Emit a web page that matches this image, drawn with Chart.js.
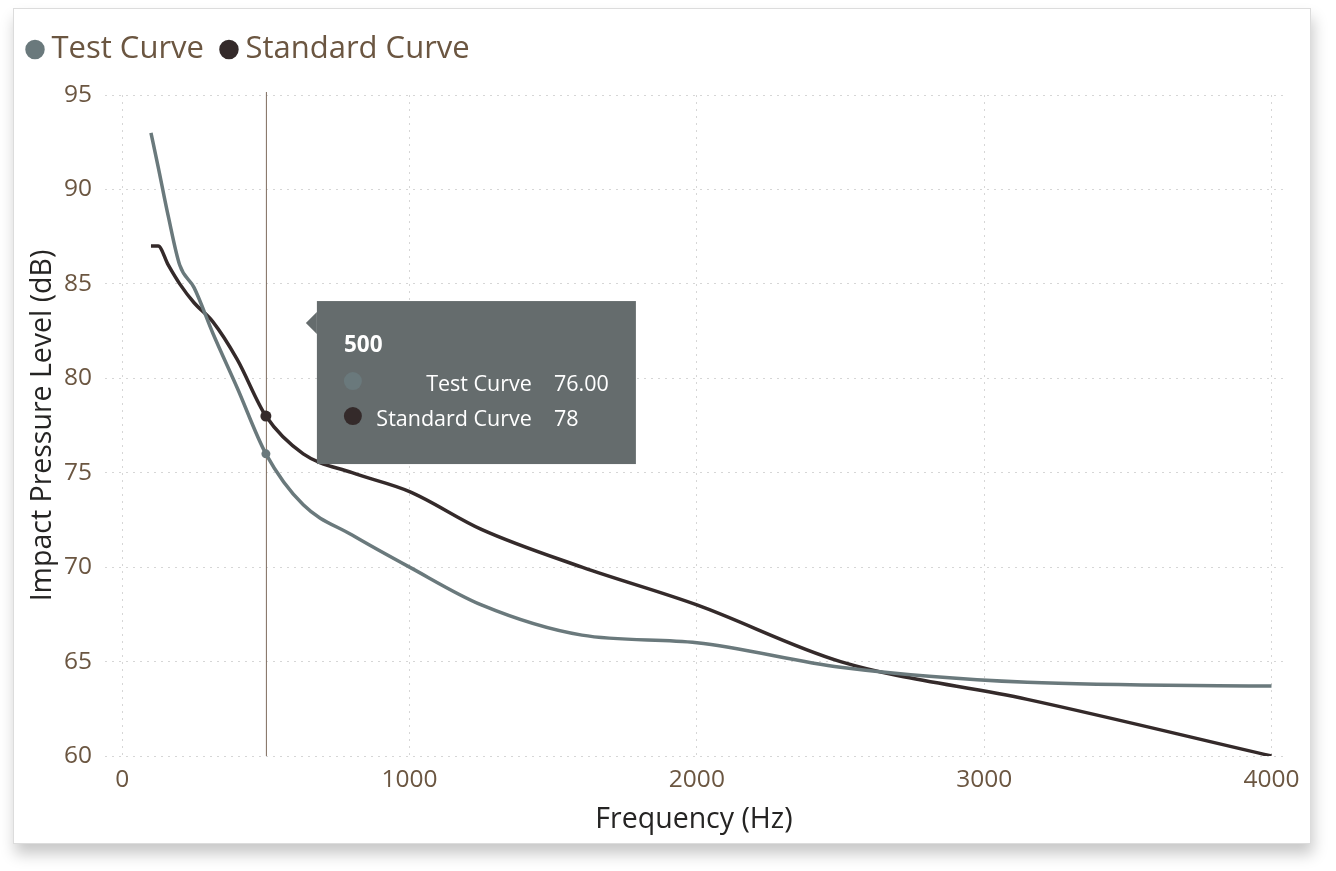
<!DOCTYPE html>
<html>
<head>
<meta charset="utf-8">
<script src="https://cdn.jsdelivr.net/npm/chart.js@4.4.1/dist/chart.umd.min.js"></script>
<style>
  html, body { margin: 0; padding: 0; background: #fff; }
  body { width: 1336px; height: 871px; position: relative; overflow: hidden; }
  #card {
    position: absolute; left: 13px; top: 8px; width: 1296px; height: 834px;
    border: 1px solid #dcdcdc; background: #fff;
    box-shadow: 2px 10px 14px rgba(0,0,0,0.22);
  }
  #chart { position: absolute; left: 0; top: 0; }
</style>
</head>
<body>
<div id="card"></div>
<canvas id="chart" width="1336" height="871"></canvas>
<script>
const freqs = [100, 125, 160, 200, 250, 315, 400, 500, 630, 800, 1000, 1250, 1600, 2000, 2500, 3150, 4000]
const testCurve = [93, 91.2, 88.6, 86, 84.8, 82.4, 79.5, 76, 73.3, 71.7, 70, 68, 66.4, 66, 64.7, 63.9, 63.7]
const standardCurve = [87, 87, 86, 85, 84, 83, 81, 78, 76, 75, 74, 72, 70, 68, 65, 63, 60]
const xTicks = [0, 1000, 2000, 3000, 4000]
const yTicks = [60, 65, 70, 75, 80, 85, 90, 95]
const hoverIndex = 7

const testColor = "#6a797c"
const standardColor = "#342a2a"
const textColor = "#6b5641"
const titleColor = "#252423"
const uiFont = "'Segoe UI', 'Open Sans', 'Noto Sans', sans-serif"

function toPoints(values) {
  return freqs.map((f, i) => ({ x: f, y: values[i] }))
}

// fixed legend height so the plot starts where the reference does
const legendHeight = {
  id: "legendHeight",
  beforeInit(chart) {
    const fit = chart.legend.fit
    chart.legend.fit = function () {
      fit.call(this)
      this.height = 85
    }
  }
}

// hover line + Power BI style tooltip at the 500 Hz point
const hoverTip = {
  id: "hoverTip",
  afterDatasetsDraw(chart) {
    const ctx = chart.ctx
    const area = chart.chartArea
    const xs = chart.scales.x
    const px = xs.getPixelForValue(freqs[hoverIndex])
    ctx.save()
    ctx.strokeStyle = "#7d6a5c"
    ctx.lineWidth = 1
    ctx.beginPath()
    ctx.moveTo(px + 0.5, area.top - 3)
    ctx.lineTo(px + 0.5, area.bottom)
    ctx.stroke()
    ctx.restore()

    // redraw the hover points over the line
    chart.data.datasets.forEach((ds, i) => {
      const pt = chart.getDatasetMeta(i).data[hoverIndex]
      ctx.save()
      ctx.fillStyle = ds.borderColor
      ctx.beginPath()
      ctx.arc(pt.x, pt.y, i === 0 ? 4.5 : 5.5, 0, Math.PI * 2)
      ctx.fill()
      ctx.restore()
    })
  },
  afterDraw(chart) {
    const ctx = chart.ctx
    const xs = chart.scales.x
    const ys = chart.scales.y
    const px = xs.getPixelForValue(freqs[hoverIndex])
    const py = ys.getPixelForValue(standardCurve[hoverIndex])
    const left = px + 51
    const top = py - 115
    const w = 319
    const h = 163
    ctx.save()
    ctx.fillStyle = "#656c6d"
    ctx.fillRect(left, top, w, h)
    ctx.beginPath()
    ctx.moveTo(left, top + 11)
    ctx.lineTo(left - 11, top + 22)
    ctx.lineTo(left, top + 33)
    ctx.closePath()
    ctx.fill()

    ctx.fillStyle = "#ffffff"
    ctx.textBaseline = "middle"
    ctx.font = "bold 22.5px " + uiFont
    ctx.textAlign = "left"
    ctx.fillText(String(freqs[hoverIndex]), left + 27, top + 45)

    const rows = [
      { label: "Test Curve", value: testCurve[hoverIndex].toFixed(2), color: testColor },
      { label: "Standard Curve", value: String(standardCurve[hoverIndex]), color: standardColor }
    ]
    ctx.font = "21.5px " + uiFont
    rows.forEach((r, i) => {
      const cy = top + 84 + i * 35
      ctx.fillStyle = r.color
      ctx.beginPath()
      ctx.arc(left + 36, cy - 4, 9, 0, Math.PI * 2)
      ctx.fill()
      ctx.fillStyle = "#ffffff"
      ctx.textAlign = "right"
      ctx.fillText(r.label, left + 215, cy)
      ctx.textAlign = "left"
      ctx.fillText(r.value, left + 237, cy)
    })
    ctx.restore()
  }
}

const chartData = {
  datasets: [
    {
      label: "Test Curve",
      data: toPoints(testCurve),
      borderColor: testColor,
      backgroundColor: testColor,
      borderWidth: 3.5,
      pointRadius: 0,
      cubicInterpolationMode: "monotone"
    },
    {
      label: "Standard Curve",
      data: toPoints(standardCurve),
      borderColor: standardColor,
      backgroundColor: standardColor,
      borderWidth: 3.5,
      pointRadius: 0,
      cubicInterpolationMode: "monotone"
    }
  ]
}

const chartConfig = {
  type: "line",
  data: chartData,
  plugins: [legendHeight, hoverTip],
  options: {
    responsive: false,
    animation: false,
    layout: { padding: { left: 10, top: 10, right: 53, bottom: 25 } },
    plugins: {
      tooltip: { enabled: false },
      legend: {
        position: "top",
        align: "start",
        labels: {
          usePointStyle: true,
          pointStyle: "circle",
          boxWidth: 2,
          boxHeight: 11.3,
          padding: 24,
          color: textColor,
          font: { family: uiFont, size: 31 }
        }
      }
    },
    scales: {
      x: {
        type: "linear",
        min: -60,
        max: 4040,
        afterBuildTicks(axis) {
          axis.ticks = xTicks.map(v => ({ value: v }))
        },
        afterFit(axis) { axis.height = 90 },
        border: { display: false, dash: [2, 5] },
        grid: { color: "#d6d6d6", lineWidth: 1, drawTicks: false },
        ticks: {
          color: textColor,
          padding: 9,
          font: { family: uiFont, size: 24.5 },
          callback: v => String(v)
        },
        title: {
          display: true,
          text: "Frequency (Hz)",
          color: titleColor,
          padding: { bottom: 9, top: 0 },
          font: { family: uiFont, size: 28.5 }
        }
      },
      y: {
        min: 60,
        max: 95,
        afterBuildTicks(axis) {
          axis.ticks = yTicks.map(v => ({ value: v }))
        },
        afterFit(axis) { axis.width = 95 },
        border: { display: false, dash: [2, 5] },
        grid: { color: "#d6d6d6", lineWidth: 1, drawTicks: false },
        ticks: { color: textColor, padding: 13, font: { family: uiFont, size: 24.5 } },
        title: {
          display: true,
          text: "Impact Pressure Level (dB)",
          color: titleColor,
          padding: { top: 16, bottom: 0 },
          font: { family: uiFont, size: 28.5 }
        }
      }
    }
  }
}

const chart = new Chart(document.getElementById("chart"), chartConfig)
</script>
</body>
</html>
